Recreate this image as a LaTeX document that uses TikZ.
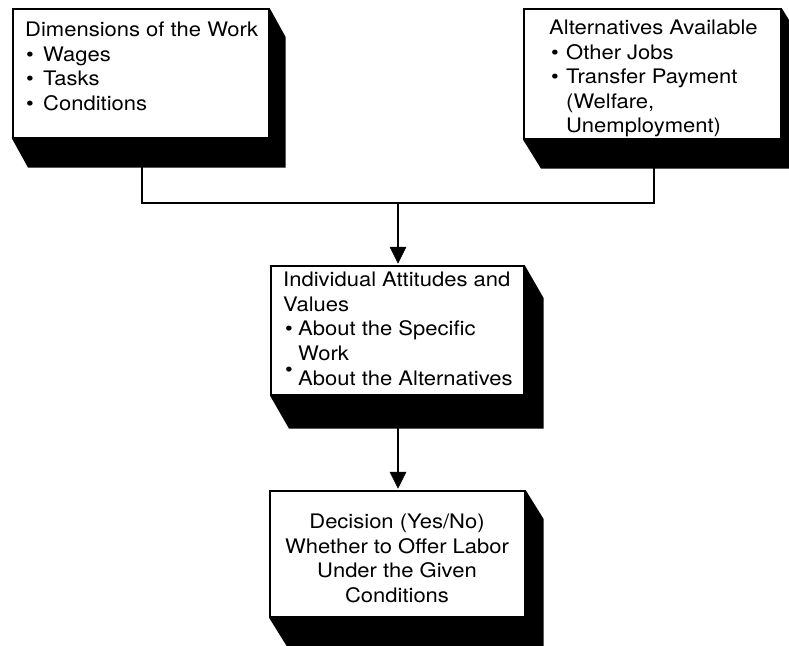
\documentclass[tikz,border=0pt]{standalone}
\usepackage{fontspec}
\setmainfont{TeX Gyre Heros}[FakeStretch=1.1]
\usetikzlibrary{calc,arrows.meta}
\tikzset{
  box/.style={draw=black, line width=1.6pt, fill=white, anchor=north west, inner sep=0pt, rectangle},
  txt/.style={anchor=base west, inner sep=0pt, font=\fontsize{20pt}{24pt}\selectfont},
  ctxt/.style={anchor=base, inner sep=0pt, font=\fontsize{20pt}{24pt}\selectfont},
  conn/.style={draw=black, line width=2pt},
  headfill/.style={fill=black, draw=black, line width=0.5pt, line join=miter},
}
\newcommand{\shadowof}[3]{%
  \fill[black] (#1.north east) -- ($(#1.north east)+(#2,#3)$) -- ($(#1.south east)+(#2,#3)$)
    -- ($(#1.south west)+(#2,#3)$) -- (#1.south west) -- (#1.south east) -- cycle;}
\newcommand{\arrowto}[2]{%
  \draw[conn] (#1) -- ($(#2)+(0,-14)$);
  \filldraw[headfill] (#2) -- ($(#2)+(-8,-16)$) -- ($(#2)+(8,-16)$) -- cycle;}
\begin{document}
\begin{tikzpicture}[x=1pt,y=-1pt]
\useasboundingbox[fill=white] (0,0) rectangle (789,645);
% boxes
\node[box, minimum width=256pt, minimum height=129pt] (b1) at (12,8) {};
\node[box, minimum width=257pt, minimum height=130pt] (b2) at (523,8) {};
\node[box, minimum width=253pt, minimum height=129pt] (b3) at (270,265) {};
\node[box, minimum width=255pt, minimum height=126pt] (b4) at (269,490) {};
\shadowof{b1}{16}{29}
\shadowof{b2}{18}{29}
\shadowof{b3}{19}{33}
\shadowof{b4}{18}{29}
% texts box 1
\node[txt] (t1a) at (25,36.5) {Dimensions of the Work};
\node[txt] (u1b) at (26,61) {•};
\node[txt] (t1b) at (43,61) {Wages};
\node[txt] (u1c) at (26,85.5) {•};
\node[txt] (t1c) at (43,85.5) {Tasks};
\node[txt] (u1d) at (26,110) {•};
\node[txt] (t1d) at (43,110) {Conditions};
% texts box 2
\node[txt] (t2a) at (549,34) {Alternatives Available};
\node[txt] (u2b) at (551,59) {•};
\node[txt] (t2b) at (566,59) {Other Jobs};
\node[txt] (u2c) at (551,83) {•};
\node[txt] (t2c) at (566,83) {Transfer Payment};
\node[txt] (t2d) at (566,108) {(Welfare,};
\node[txt] (t2e) at (566,132) {Unemployment)};
% texts box 3
\node[txt] (t3a) at (283,286) {Individual Attitudes and};
\node[txt] (t3b) at (283,311) {Values};
\node[txt] (u3c) at (285,335) {•};
\node[txt] (t3c) at (298,335) {About the Specific};
\node[txt] (t3d) at (298,360) {Work};
\node[txt] (u3e) at (285,376) {•};
\node[txt] (t3e) at (298,385) {About the Alternatives};
% texts box 4
\node[ctxt] (t4a) at (397,528) {Decision (Yes/No)};
\node[ctxt] (t4b) at (397,553) {Whether to Offer Labor};
\node[ctxt] (t4c) at (397,577) {Under the Given};
\node[ctxt] (t4d) at (397,602) {Conditions};
% connectors
\coordinate (j) at (398,203);
\coordinate (k) at (398,427);
\coordinate (pl) at (142,167);
\coordinate (pr) at (654,167);
\coordinate (j3) at (398,263);
\coordinate (j4) at (398,488);
\draw[conn] (pl) |- (j) -| (pr);
\arrowto{j}{j3}
\arrowto{k}{j4}
\end{tikzpicture}
\end{document}
